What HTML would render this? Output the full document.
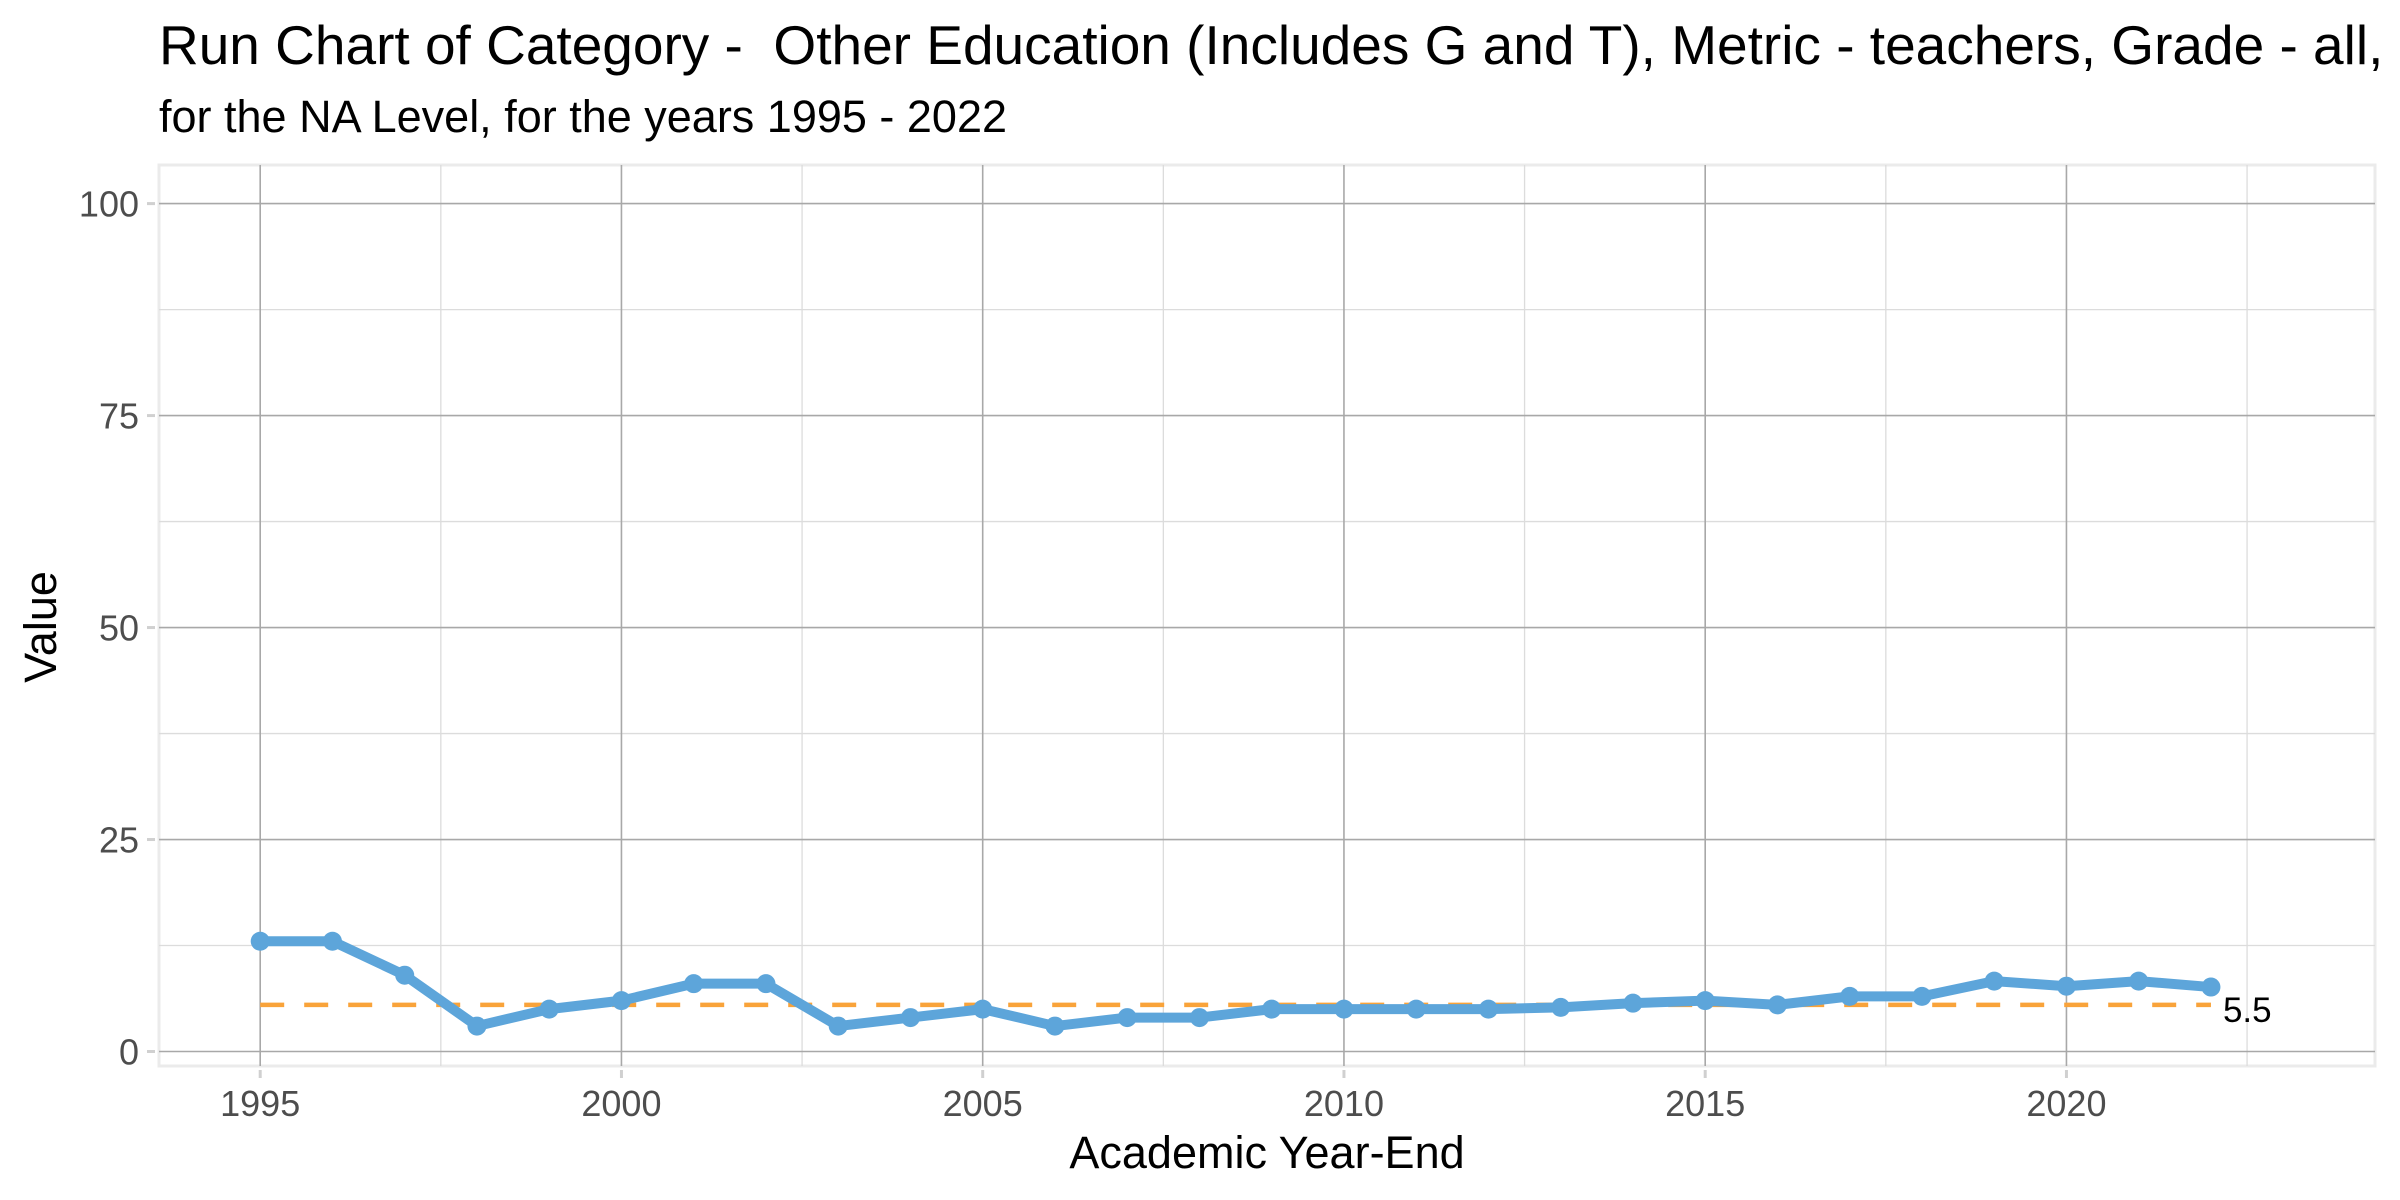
<!DOCTYPE html>
<html><head><meta charset="utf-8"><style>
html,body{margin:0;padding:0;background:#fff;}
svg{display:block;font-family:"Liberation Sans",Arial,sans-serif;}
</style></head><body>
<svg id="chart" width="2400" height="1200" viewBox="0 0 2400 1200" xmlns="http://www.w3.org/2000/svg">
<text x="159" y="64" font-size="55" fill="#000">Run Chart of Category - &#160;Other Education (Includes G and T), Metric - teachers, Grade - all,</text>
<text x="159" y="132" font-size="45" fill="#000">for the NA Level, for the years 1995 - 2022</text>
<g id="grid"></g>
<g id="marks"></g>
<text x="1267" y="1168" font-size="45" text-anchor="middle" fill="#000">Academic Year-End</text>
<text transform="translate(56,627) rotate(-90)" font-size="45" text-anchor="middle" fill="#000">Value</text>
</svg>
<script>
const years = [1995,1996,1997,1998,1999,2000,2001,2002,2003,2004,2005,2006,2007,2008,2009,2010,2011,2012,2013,2014,2015,2016,2017,2018,2019,2020,2021,2022];
const values = [13,13,9,3,5,6,8,8,3,4,5,3,4,4,5,5,5,5,5.2,5.7,6,5.5,6.5,6.5,8.3,7.7,8.3,7.6];
const medianValue = [5.5];
const medianLabel = ["5.5"];
const xTicks = [1995,2000,2005,2010,2015,2020];
const xMinor = [1997.5,2002.5,2007.5,2012.5,2017.5,2022.5];
const yTicks = [0,25,50,75,100];
const yMinor = [12.5,37.5,62.5,87.5];

const NS = "http://www.w3.org/2000/svg";
const PL = 159, PR = 2375, PT = 165, PB = 1066;
function xs(v){ return 260.2 + (v - 1995) * 72.25; }
function ys(v){ return 1051.5 - v * 8.479; }
function mk(tag, attrs, parent){
  const e = document.createElementNS(NS, tag);
  for (const k in attrs) e.setAttribute(k, attrs[k]);
  parent.appendChild(e); return e;
}
const grid = document.getElementById('grid');
const marks = document.getElementById('marks');

const border = mk('rect', {x:PL, y:PT, width:PR-PL, height:PB-PT, fill:'none', stroke:'#ebebeb', 'stroke-width':3}, grid);



yMinor.forEach(v => {
  const l = mk('line', {x1:PL, x2:PR, y1:ys(v), y2:ys(v), stroke:'#dcdcdc', 'stroke-width':1.3}, grid);
  
  
});
xMinor.forEach(v => {
  const l = mk('line', {x1:xs(v), x2:xs(v), y1:PT, y2:PB, stroke:'#dcdcdc', 'stroke-width':1.3}, grid);
  
  
});
yTicks.forEach(v => {
  const l = mk('line', {x1:PL, x2:PR, y1:ys(v), y2:ys(v), stroke:'#a8a8a8', 'stroke-width':1.6}, grid);
  
  
  const tk = mk('line', {x1:PL-12, x2:PL-4, y1:ys(v), y2:ys(v), stroke:'#d0d0d0', 'stroke-width':3}, grid);
  
  
  const t = mk('text', {x:PL-20, y:ys(v)+13, 'font-size':36, 'text-anchor':'end', fill:'#4d4d4d'}, grid);
  t.textContent = v;
  
  
});
xTicks.forEach(v => {
  const l = mk('line', {x1:xs(v), x2:xs(v), y1:PT, y2:PB, stroke:'#a8a8a8', 'stroke-width':1.6}, grid);
  
  
  const tk = mk('line', {x1:xs(v), x2:xs(v), y1:PB+4, y2:PB+12, stroke:'#d0d0d0', 'stroke-width':3}, grid);
  
  
  const t = mk('text', {x:xs(v), y:PB+50, 'font-size':36, 'text-anchor':'middle', fill:'#4d4d4d'}, grid);
  t.textContent = v;
  
  
});

const med = mk('line', {x1:xs(years[0]), x2:xs(years[years.length-1]), y1:ys(medianValue[0]), y2:ys(medianValue[0]), stroke:'#f9a33a', 'stroke-width':4.5, 'stroke-dasharray':'24 20'}, marks);



const pts = years.map((y,i) => xs(y) + ',' + ys(values[i])).join(' ');
const line = mk('polyline', {points:pts, fill:'none', stroke:'#5da5da', 'stroke-width':10, 'stroke-linejoin':'round'}, marks);


years.forEach((y,i) => {
  const c = mk('circle', {cx:xs(y), cy:ys(values[i]), r:9.5, fill:'#5da5da'}, marks);
  
  
});
const ml = mk('text', {x:xs(years[years.length-1]) + 12, y:ys(medianValue[0]) + 17, 'font-size':35, fill:'#000'}, marks);
ml.textContent = medianLabel[0];


</script>
</body></html>
